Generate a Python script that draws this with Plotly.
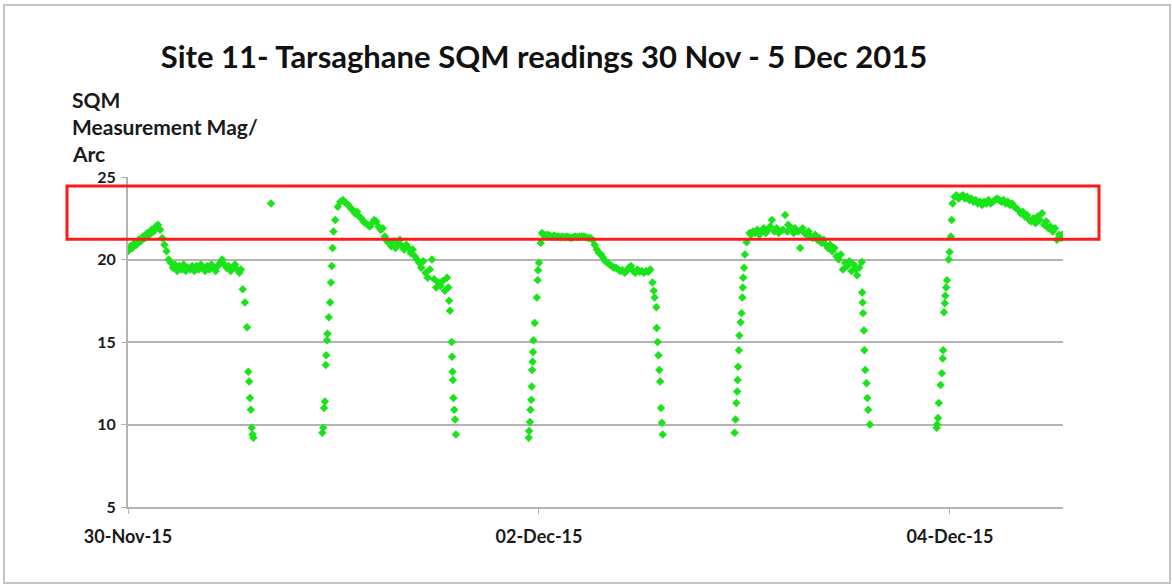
import pandas as pd
import plotly.graph_objects as go

# ---- data (hours since 30-Nov-2015 00:00, SQM reading) ----
n1_hours = [0.0, 0.25, 0.5, 0.75, 1.0, 1.25, 1.5, 1.75, 2.0, 2.25, 2.5, 2.75, 3.0, 3.25, 3.5, 3.75, 4.0, 4.25, 4.5, 4.75,
            5.0, 5.25, 5.5, 5.75, 6.0, 6.25, 6.5, 6.75, 7.0, 7.25, 7.5, 7.75, 8.0, 8.25, 8.5, 8.75, 9.0, 9.25, 9.5, 9.75,
            10.0, 10.25, 10.5, 10.75, 11.0, 11.25, 11.5, 11.75, 12.0, 12.25, 12.5, 12.75, 13.0, 13.2,
            13.4, 13.65, 13.9, 14.05, 14.15, 14.25, 14.35, 14.45, 14.55, 14.65]
n1_sqm = [20.5, 20.8, 20.7, 21.0, 20.9, 21.2, 21.1, 21.4, 21.3, 21.6, 21.5, 21.8, 21.7, 22.0, 22.1, 21.8, 21.3, 20.9, 20.5, 20.0,
          19.8, 19.5, 19.7, 19.3, 19.6, 19.4, 19.7, 19.3, 19.5, 19.4, 19.6, 19.3, 19.6, 19.4, 19.7, 19.5, 19.3, 19.6, 19.4, 19.7,
          19.5, 19.3, 19.6, 19.8, 20.0, 19.7, 19.5, 19.6, 19.3, 19.5, 19.7, 19.4, 19.2, 19.4,
          18.2, 17.4, 15.9, 13.2, 12.6, 11.6, 10.9, 9.8, 9.4, 9.2]

stray_hours = [16.7]
stray_sqm = [23.4]

n2_hours = [22.7, 22.8, 22.9, 23.0, 23.1, 23.15, 23.25, 23.3, 23.45, 23.6, 23.7, 23.8, 23.9, 24.0, 24.2, 24.5, 24.8, 25.1,
            25.25, 25.5, 25.75, 26.0, 26.25, 26.5, 26.75, 27.0, 27.25, 27.5,
            27.75, 28.0, 28.25, 28.5, 28.75, 29.0, 29.25, 29.5, 29.75, 30.0,
            30.25, 30.5, 30.75, 31.0, 31.25, 31.5, 31.75, 32.0, 32.25, 32.5,
            32.75, 33.0, 33.25, 33.5, 33.75, 34.0, 34.25, 34.5, 34.75, 35.0,
            35.25, 35.5, 35.75, 36.0, 36.25, 36.5, 36.75, 37.0, 37.25, 37.4, 37.5, 37.6,
            37.8, 37.85, 37.9, 37.95, 38.0, 38.1, 38.2, 38.3]
n2_sqm = [9.5, 9.8, 11.0, 11.4, 13.6, 14.2, 15.1, 15.5, 16.5, 17.4, 18.6, 19.6, 20.7, 21.7, 22.4, 23.2, 23.5, 23.6,
          23.5, 23.4, 23.3, 23.1, 23.0, 22.8, 22.9, 22.6, 22.5, 22.3,
          22.2, 22.1, 22.0, 22.2, 22.4, 22.3, 22.0, 21.8, 21.9, 21.4,
          21.1, 21.0, 20.8, 21.1, 20.7, 21.0, 21.2, 20.8, 20.6, 20.9,
          20.7, 20.4, 20.6, 20.2, 20.0, 19.8, 19.5, 19.9, 19.2, 18.9,
          19.4, 20.0, 18.8, 18.3, 18.6, 18.4, 18.7, 18.1, 18.9, 18.3, 17.5, 16.9,
          15.0, 14.1, 13.2, 12.7, 11.6, 10.9, 10.3, 9.4]

n3_hours = [46.8, 46.85, 46.95, 47.0, 47.1, 47.15, 47.2, 47.25, 47.3, 47.35, 47.5, 47.75, 47.85, 47.9, 48.0, 48.2, 48.35,
            48.5, 48.75, 49.0, 49.25, 49.5, 49.75, 50.0, 50.25, 50.5, 50.75,
            51.0, 51.25, 51.5, 51.75, 52.0, 52.25, 52.5, 52.75, 53.0, 53.25,
            53.5, 53.75, 54.0, 54.25, 54.5, 54.75, 55.0, 55.25, 55.5, 55.75,
            56.0, 56.25, 56.5, 56.75, 57.0, 57.25, 57.5, 57.75, 58.0, 58.25,
            58.5, 58.75, 59.0, 59.25, 59.5, 59.75, 60.0, 60.25, 60.5, 60.75,
            61.0, 61.25, 61.4, 61.5,
            61.7, 61.75, 61.85, 61.95, 62.05, 62.15, 62.25, 62.35, 62.45]
n3_sqm = [9.2, 9.6, 10.15, 10.9, 11.5, 12.3, 13.3, 13.8, 14.4, 15.1, 16.15, 17.7, 18.75, 19.35, 19.8, 21.0, 21.6,
          21.5, 21.45, 21.5, 21.45, 21.4, 21.45, 21.4, 21.4, 21.35, 21.4,
          21.35, 21.4, 21.35, 21.3, 21.35, 21.4, 21.35, 21.4, 21.4, 21.4,
          21.35, 21.3, 21.3, 21.2, 20.9, 20.6, 20.4, 20.3, 20.1, 19.9,
          19.8, 19.7, 19.6, 19.5, 19.5, 19.4, 19.3, 19.35, 19.2, 19.3,
          19.5, 19.6, 19.3, 19.2, 19.4, 19.25, 19.3, 19.2, 19.3, 19.25,
          19.4, 18.6, 18.1, 17.7,
          17.1, 15.85, 15.0, 14.2, 13.3, 12.6, 11.0, 10.1, 9.4]

n4_hours = [70.85, 70.95, 71.05, 71.15, 71.2, 71.25, 71.35, 71.4, 71.55, 71.65, 71.75, 71.8, 71.85, 71.95, 72.05, 72.25, 72.6,
            72.75, 73.0, 73.25, 73.5, 73.75, 74.0, 74.25, 74.5, 74.75, 75.0,
            75.2, 75.5, 75.75, 76.0, 76.15, 76.5, 76.75, 77.0, 77.1, 77.5,
            77.75, 77.9, 78.25, 78.5, 78.8, 79.0, 79.25, 79.5, 79.75, 80.0,
            80.25, 80.5, 80.75, 81.0, 81.25, 81.5, 81.75, 82.0, 82.25, 82.5,
            82.75, 83.0, 83.25, 83.5, 83.75, 84.0, 84.25, 84.5, 84.75, 85.0,
            85.15, 85.4, 85.7,
            85.75, 85.8, 85.85, 85.95, 86.0, 86.1, 86.25, 86.35, 86.45, 86.65]
n4_sqm = [9.5, 10.3, 11.3, 12.0, 12.7, 13.5, 14.5, 15.4, 16.2, 16.75, 17.7, 18.3, 18.9, 19.5, 20.3, 21.05, 21.6,
          21.5, 21.7, 21.6, 21.8, 21.5, 21.7, 21.9, 21.6, 21.8, 22.0,
          22.4, 21.7, 21.9, 21.6, 21.7, 21.8, 22.7, 21.7, 22.1, 21.9,
          21.6, 21.9, 21.7, 20.7, 21.9, 21.6, 21.5, 21.7, 21.4, 21.3,
          21.5, 21.2, 21.3, 21.0, 21.2, 20.9, 20.7, 20.9, 20.5, 20.7,
          20.2, 20.0, 20.3, 19.4, 19.8, 19.6, 19.9, 19.3, 19.7, 19.4,
          19.05, 19.5, 19.85,
          18.0, 17.4, 16.75, 15.7, 14.5, 13.3, 12.5, 11.6, 10.9, 10.0]

n5_hours = [94.45, 94.5, 94.6, 94.7, 94.9, 95.05, 95.15, 95.2, 95.3, 95.4, 95.45, 95.55, 95.65, 95.85, 95.95, 96.1, 96.2, 96.3, 96.55,
            96.75, 97.0, 97.25, 97.5, 97.75, 98.0, 98.25, 98.5, 98.75, 99.0,
            99.25, 99.5, 99.75, 100.0, 100.25, 100.5, 100.75, 101.0, 101.25, 101.5,
            101.75, 102.0, 102.25, 102.5, 102.75, 103.0, 103.25, 103.5, 103.75, 104.0,
            104.25, 104.5, 104.75, 105.0, 105.25, 105.5, 105.75, 106.0, 106.25, 106.5,
            106.75, 107.0, 107.25, 107.5, 107.75, 108.0, 108.25, 108.5, 108.75, 109.0,
            109.1]
n5_sqm = [9.8, 10.0, 10.4, 11.3, 12.4, 13.1, 14.0, 14.5, 16.8, 17.35, 17.8, 18.3, 18.75, 20.0, 20.45, 21.4, 22.4, 23.4, 23.8,
          23.9, 23.7, 23.8, 23.9, 23.7, 23.8, 23.6, 23.7, 23.5, 23.6,
          23.4, 23.5, 23.3, 23.5, 23.4, 23.6, 23.4, 23.5, 23.6, 23.7,
          23.6, 23.5, 23.6, 23.4, 23.5, 23.3, 23.4, 23.2, 23.1, 23.0,
          22.8, 22.9, 22.6, 22.7, 22.4, 22.3, 22.5, 22.2, 22.6, 22.4,
          22.8, 22.1, 22.3, 21.9, 22.0, 21.7, 21.9, 21.2, 21.5, 21.3,
          21.5]

x_tick_dates = ["2015-11-30", "2015-12-02", "2015-12-04"]
x_tick_labels = ["30-Nov-15", "02-Dec-15", "04-Dec-15"]
y_ticks = [5, 10, 15, 20, 25]
highlight_low, highlight_high = 21.22, 24.45

# ---- assemble ----
start = pd.Timestamp("2015-11-30 00:00")
hours = n1_hours + stray_hours + n2_hours + n3_hours + n4_hours + n5_hours
sqm = n1_sqm + stray_sqm + n2_sqm + n3_sqm + n4_sqm + n5_sqm
assert len(hours) == len(sqm), (len(hours), len(sqm))
times = [start + pd.Timedelta(hours=h) for h in hours]

FONT = "Lato"
GRID = "#B4B4B4"

fig = go.Figure()
fig.add_trace(go.Scatter(
    x=times, y=sqm, mode="markers",
    marker=dict(symbol="diamond", size=6.5, color="rgb(25,228,25)", line=dict(width=0)),
    showlegend=False, hoverinfo="x+y"))

# plot-area edges in page pixels (body margin removed by post_script)
L, R, T, B = 128, 1063, 177, 507
PW, PH = R - L, B - T

fig.update_layout(
    width=1172, height=586,
    paper_bgcolor="white", plot_bgcolor="white",
    margin=dict(l=L, r=1172 - R, t=T, b=586 - B),
    title=dict(text="<b>Site 11- Tarsaghane SQM readings 30 Nov - 5 Dec 2015</b>",
               x=544 / 1172, xanchor="center", xref="container",
               y=1 - 57 / 586, yanchor="middle", yref="container",
               font=dict(family=FONT, size=31, color="#111")),
    xaxis=dict(type="date",
               range=[start, start + pd.Timedelta(hours=109.2)],
               tickvals=x_tick_dates, ticktext=x_tick_labels,
               showgrid=False, zeroline=False,
               showline=True, linecolor=GRID, linewidth=2,
               ticks="outside", ticklen=5, tickcolor=GRID, tickwidth=1,
               ticklabelstandoff=7,
               tickfont=dict(family=FONT, size=18, color="#1a1a1a", weight="bold")),
    yaxis=dict(range=[5, 25], tickvals=y_ticks,
               showgrid=True, gridcolor=GRID, gridwidth=2, zeroline=False,
               showline=True, linecolor=GRID, linewidth=2,
               ticks="outside", ticklen=5, tickcolor=GRID, tickwidth=1,
               ticklabelstandoff=2,
               tickfont=dict(family=FONT, size=16, color="#1a1a1a", weight="bold")),
)

def px_x(px):
    return (px - L) / PW

def px_y(py):
    return (B - py) / PH

# highlight box
fig.add_shape(type="rect", xref="paper", yref="y",
              x0=px_x(67), x1=px_x(1099), y0=highlight_low, y1=highlight_high,
              line=dict(color="#FF1A1A", width=3), fillcolor="rgba(0,0,0,0)", layer="above")
# outer frame
fig.add_shape(type="rect", xref="paper", yref="paper",
              x0=px_x(4), x1=px_x(1170), y0=px_y(583), y1=px_y(5),
              line=dict(color="#C4C4C4", width=2), fillcolor="rgba(0,0,0,0)")

# y-axis label lines
for txt, ypx in [("SQM", 100), ("Measurement Mag/", 126), ("Arc", 153)]:
    fig.add_annotation(text=f"<b>{txt}</b>", xref="paper", yref="paper",
                       x=px_x(70), y=px_y(ypx),
                       xanchor="left", yanchor="middle", showarrow=False,
                       font=dict(family=FONT, size=21, color="#1a1a1a"))

fig.write_html("out.html",
               config={"displayModeBar": False},
               post_script="document.body.style.margin='0px';document.body.style.overflow='hidden';")
